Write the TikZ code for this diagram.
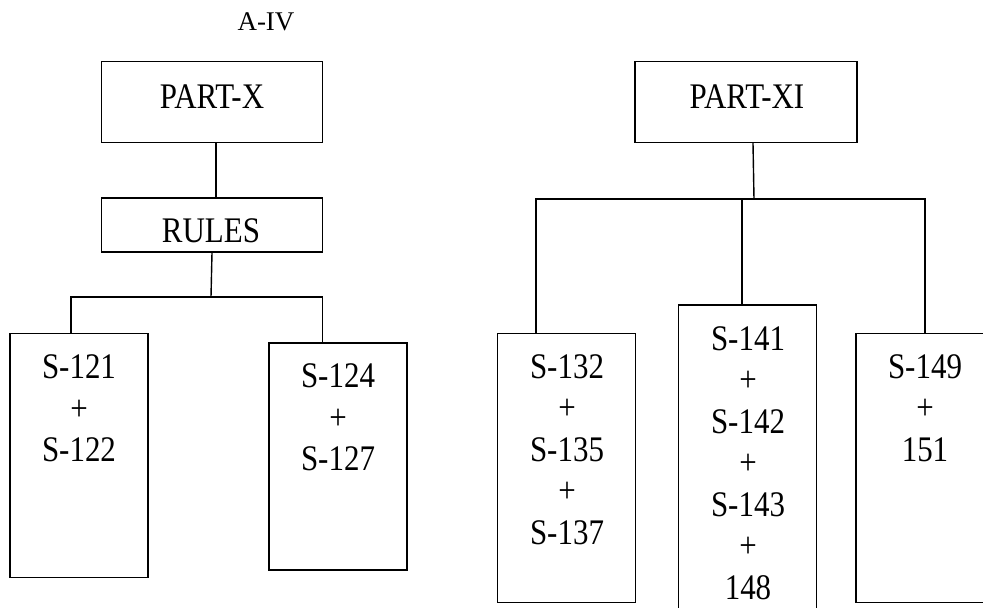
\documentclass[tikz,border=0pt]{standalone}
\usepackage{fontspec}
\setmainfont{Liberation Serif}
\newfontfamily\boxfont[FakeStretch=0.86]{Liberation Serif}
\usetikzlibrary{positioning}

\tikzset{
    box/.style={draw, line width=1.4pt, inner sep=0pt},
    colbox/.style={box, minimum width=138pt},
    boxtext/.style={inner sep=0pt, align=center, font=\boxfont\fontsize{36}{41.5}\selectfont},
}

\begin{document}
\begin{tikzpicture}[x=1pt, y=-1pt, line width=1.4pt]
    \useasboundingbox (0,0) rectangle (983,608);
    \node (aiv) [anchor=base, inner sep=0pt, font=\fontsize{27}{30}\selectfont] at (266,30) {A-IV};

    % PART-X side
    \node (partx) [box, minimum width=221pt, minimum height=81pt] at (212,102) {};
    \node (partxt) [boxtext, anchor=base] at (212,108) {PART-X};
    \node (rules) [box, minimum width=221pt, minimum height=54pt] at (212,225) {};
    \node (rulest) [boxtext, anchor=base] at (211,242) {RULES};
    \node (s121) [colbox, minimum height=244pt] at (79,455.5) {};
    \node (s121t) [boxtext, anchor=north] at (79,354) {S-121\\+\\S-122};
    \node (s124) [colbox, minimum height=227pt] at (338,456.5) {};
    \node (s124t) [boxtext, anchor=north] at (338,363) {S-124\\+\\S-127};
    \coordinate (j1) at (211,297);
    \draw ([xshift=4pt]partx.south) -- ([xshift=4pt]rules.north);
    \draw (rules.south) -- (j1);
    \draw ([xshift=-8pt]s121.north) |- (j1);
    \draw ([xshift=-15.5pt]s124.north) |- (j1);

    % PART-XI side
    \node (partxi) [box, minimum width=222pt, minimum height=81pt] at (746,102) {};
    \node (partxit) [boxtext, anchor=base] at (747,108) {PART-XI};
    \node (s132) [colbox, minimum height=269pt] at (566.5,468) {};
    \node (s132t) [boxtext, anchor=north] at (567,353.5) {S-132\\+\\S-135\\+\\S-137};
    \node (s141) [colbox, minimum height=335pt] at (747.5,472.5) {};
    \node (s141t) [boxtext, anchor=north] at (748,325.5) {S-141\\+\\S-142\\+\\S-143\\+\\148};
    \node (s149) [colbox, minimum height=269pt] at (925,468) {};
    \node (s149t) [boxtext, anchor=north] at (925,353.5) {S-149\\+\\151};
    \coordinate (j2) at (754,199);
    \draw ([xshift=7pt]partxi.south) -- (j2);
    \draw ([xshift=-30.5pt]s132.north) |- (j2);
    \draw ([xshift=-5.5pt]s141.north) |- (j2);
    \draw (s149.north) |- (j2);
\end{tikzpicture}
\end{document}
